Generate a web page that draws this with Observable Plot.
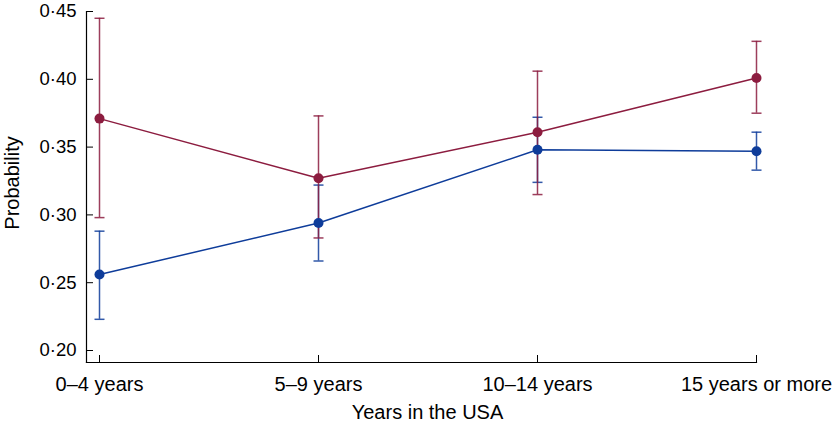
<!DOCTYPE html>
<html>
<head>
<meta charset="utf-8">
<script src="https://cdn.jsdelivr.net/npm/d3@7"></script>
<script src="https://cdn.jsdelivr.net/npm/@observablehq/plot@0.6"></script>
<style>
  html, body { margin: 0; padding: 0; background: #fff; }
  #chart svg { display: block; }
</style>
</head>
<body>
<div id="chart"></div>
<script>
const categories = ["0–4 years", "5–9 years", "10–14 years", "15 years or more"];
const redMean = [0.371, 0.327, 0.361, 0.401];
const redLow  = [0.298, 0.283, 0.315, 0.375];
const redHigh = [0.445, 0.373, 0.406, 0.428];
const blueMean = [0.256, 0.294, 0.348, 0.347];
const blueLow  = [0.223, 0.266, 0.324, 0.333];
const blueHigh = [0.288, 0.322, 0.372, 0.361];
const yTicks = [0.20, 0.25, 0.30, 0.35, 0.40, 0.45];
const xTitle = "Years in the USA";
const yTitle = "Probability";

const RED = "#8C1C3F";
const BLUE = "#0E3C9A";

const redData = categories.map((c, i) => ({cat: c, v: redMean[i], lo: redLow[i], hi: redHigh[i]}));
const blueData = categories.map((c, i) => ({cat: c, v: blueMean[i], lo: blueLow[i], hi: blueHigh[i]}));

const fmt = d => d3.format(".2f")(d).replace(".", "·");

// horizontal cap symbol for error bars
const capSymbol = {
  draw(context, size) {
    const r = Math.sqrt(size / Math.PI);
    context.moveTo(-r, 0);
    context.lineTo(r, 0);
  }
};

const bars = (data, color) => [
  Plot.ruleX(data, {x: "cat", y1: "lo", y2: "hi", stroke: color, strokeWidth: 1.5, strokeOpacity: 0.85}),
  Plot.dot(data, {x: "cat", y: "lo", symbol: capSymbol, r: 5, fill: "none", stroke: color, strokeWidth: 1.5, strokeOpacity: 0.85}),
  Plot.dot(data, {x: "cat", y: "hi", symbol: capSymbol, r: 5, fill: "none", stroke: color, strokeWidth: 1.5, strokeOpacity: 0.85})
];

const chart = Plot.plot({
  width: 832,
  height: 424,
  marginLeft: 86,
  marginRight: 76,
  marginTop: 11,
  marginBottom: 62,
  style: {fontFamily: "'Liberation Sans', Arial, sans-serif", fontSize: "18px", color: "#000", background: "#fff"},
  x: {type: "point", domain: categories, range: [98, 756], padding: 0},
  y: {domain: [0.20, 0.45], range: [350, 11]},
  marks: [
    Plot.frame({anchor: "left", stroke: "#000", strokeWidth: 1.2}),
    Plot.frame({anchor: "bottom", stroke: "#000", strokeWidth: 1.2}),
    Plot.axisY({ticks: yTicks, tickFormat: fmt, tickSize: -7, tickPadding: 17, fontSize: 18.5, label: null}),
    Plot.axisX({tickSize: -7, tickPadding: 21, fontSize: 20, label: null}),
    Plot.text([xTitle], {text: d => d, frameAnchor: "bottom", dx: 6, dy: 50, lineAnchor: "middle", textAnchor: "middle", fontSize: 20, fill: "#000"}),
    Plot.text([yTitle], {text: d => d, frameAnchor: "left", dx: -74, dy: -4, rotate: -90, lineAnchor: "middle", textAnchor: "middle", fontSize: 20, fill: "#000"}),
    ...bars(blueData, BLUE),
    ...bars(redData, RED),
    Plot.line(redData, {x: "cat", y: "v", stroke: RED, strokeWidth: 1.5}),
    Plot.dot(redData, {x: "cat", y: "v", r: 5, fill: RED}),
    Plot.line(blueData, {x: "cat", y: "v", stroke: BLUE, strokeWidth: 1.5}),
    Plot.dot(blueData, {x: "cat", y: "v", r: 5, fill: BLUE})
  ]
});
document.getElementById("chart").appendChild(chart);
</script>
</body>
</html>
